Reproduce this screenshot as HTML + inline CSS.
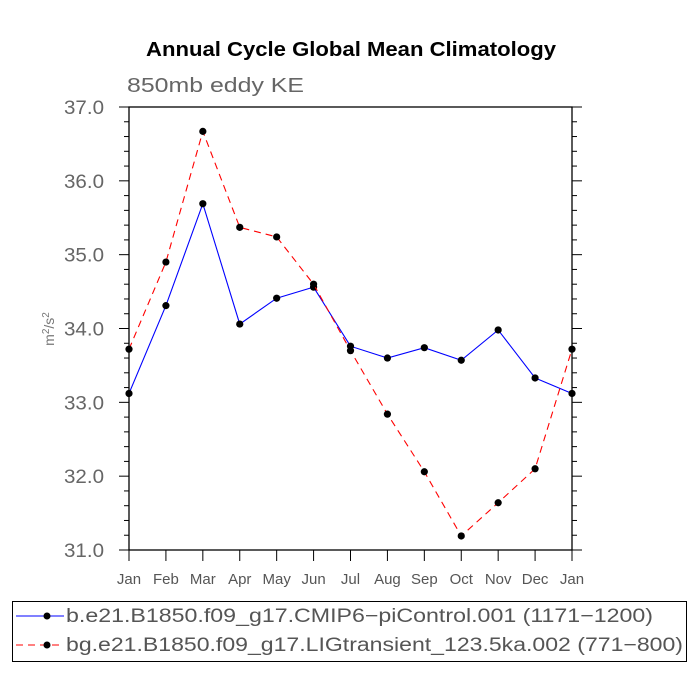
<!DOCTYPE html>
<html><head><meta charset="utf-8"><style>
body{margin:0;background:#fff}
svg{display:block;font-family:"Liberation Sans",sans-serif}
</style></head><body>
<svg id="c" width="700" height="700">
<text x="146" y="56" font-size="20" font-weight="bold" textLength="410" lengthAdjust="spacingAndGlyphs">Annual Cycle Global Mean Climatology</text>
<text x="127" y="92" font-size="20" fill="#666" textLength="177" lengthAdjust="spacingAndGlyphs">850mb eddy KE</text>
<text transform="translate(54,329) rotate(-90)" text-anchor="middle" font-size="14" fill="#777">m<tspan font-size="10" dy="-5">2</tspan><tspan dy="5">/s</tspan><tspan font-size="10" dy="-5">2</tspan></text>
<g id="axes"></g><g id="series"></g>
<rect x="12.5" y="601.5" width="674" height="60" fill="none" stroke="#000"/>
<g>
<line x1="16" y1="616" x2="64" y2="616" stroke="#00f"/><circle cx="47" cy="616" r="3.5"/>
<text x="66" y="622" font-size="19" fill="#555" textLength="587" lengthAdjust="spacingAndGlyphs">b.e21.B1850.f09_g17.CMIP6−piControl.001 (1171−1200)</text></g>
<g>
<line x1="16" y1="645" x2="64" y2="645" stroke="#f00" stroke-dasharray="7,5"/><circle cx="47" cy="645" r="3.5"/>
<text x="66" y="651" font-size="19" fill="#555" textLength="617" lengthAdjust="spacingAndGlyphs">bg.e21.B1850.f09_g17.LIGtransient_123.5ka.002 (771−800)</text></g>
</svg>
<script>
const months=["Jan","Feb","Mar","Apr","May","Jun","Jul","Aug","Sep","Oct","Nov","Dec","Jan"];
const controlValues=[33.12,34.31,35.69,34.06,34.41,34.56,33.76,33.60,33.74,33.57,33.98,33.33,33.12];
const transientValues=[33.72,34.90,36.67,35.37,35.24,34.60,33.70,32.84,32.06,31.19,31.64,32.10,33.72];
const yTicks=[31,32,33,34,35,36,37];
const NS="http://www.w3.org/2000/svg";
const L=129,R=572,T=107,B=550,ymin=31,ymax=37;
const xs=i=>L+(R-L)*i/(months.length-1);
const ys=v=>B-(v-ymin)/(ymax-ymin)*(B-T);
function mk(t,a,p){const e=document.createElementNS(NS,t);for(const k in a)e.setAttribute(k,a[k]);p.appendChild(e);return e;}
const ax=document.getElementById('axes');
const frame=mk('rect',{x:L,y:T,width:R-L,height:B-T,fill:'none',stroke:'#000','stroke-width':1.3},ax);


for(let v=ymin;v<=ymax+1e-9;v+=0.2){
  const y=ys(v);const major=Math.abs(v-Math.round(v))<1e-6;const len=major?10:5;
  mk('line',{x1:L-len,y1:y,x2:L,y2:y,stroke:'#000'},ax);
  mk('line',{x1:R,y1:y,x2:R+len,y2:y,stroke:'#000'},ax);
}
yTicks.forEach(v=>{
  const t=mk('text',{x:L-65,y:ys(v)+7,'font-size':19,fill:'#666',textLength:40,lengthAdjust:'spacingAndGlyphs'},ax);
  t.textContent=v.toFixed(1);
  
  
});
months.forEach((m,i)=>{
  const x=xs(i);
  mk('line',{x1:x,y1:B,x2:x,y2:B+11,stroke:'#000'},ax);
  const t=mk('text',{x:x,y:B+34,'font-size':15,fill:'#555','text-anchor':'middle'},ax);
  t.textContent=m;
  
  
});
const sg=document.getElementById('series');
function draw(vals,color,dash,name){
  const g=mk('g',{},sg);
  
  
  const pl=mk('polyline',{points:vals.map((v,i)=>xs(i)+','+ys(v)).join(' '),fill:'none',stroke:color,'stroke-width':1.1},g);
  if(dash)pl.setAttribute('stroke-dasharray',dash);
  vals.forEach((v,i)=>{
    const c=mk('circle',{cx:xs(i),cy:ys(v),r:3.6,fill:'#000'},g);
    
    
  });
}
draw(controlValues,'#00f',null,'series-control');
draw(transientValues,'#f00','7,5','series-transient');
</script>
</body></html>
